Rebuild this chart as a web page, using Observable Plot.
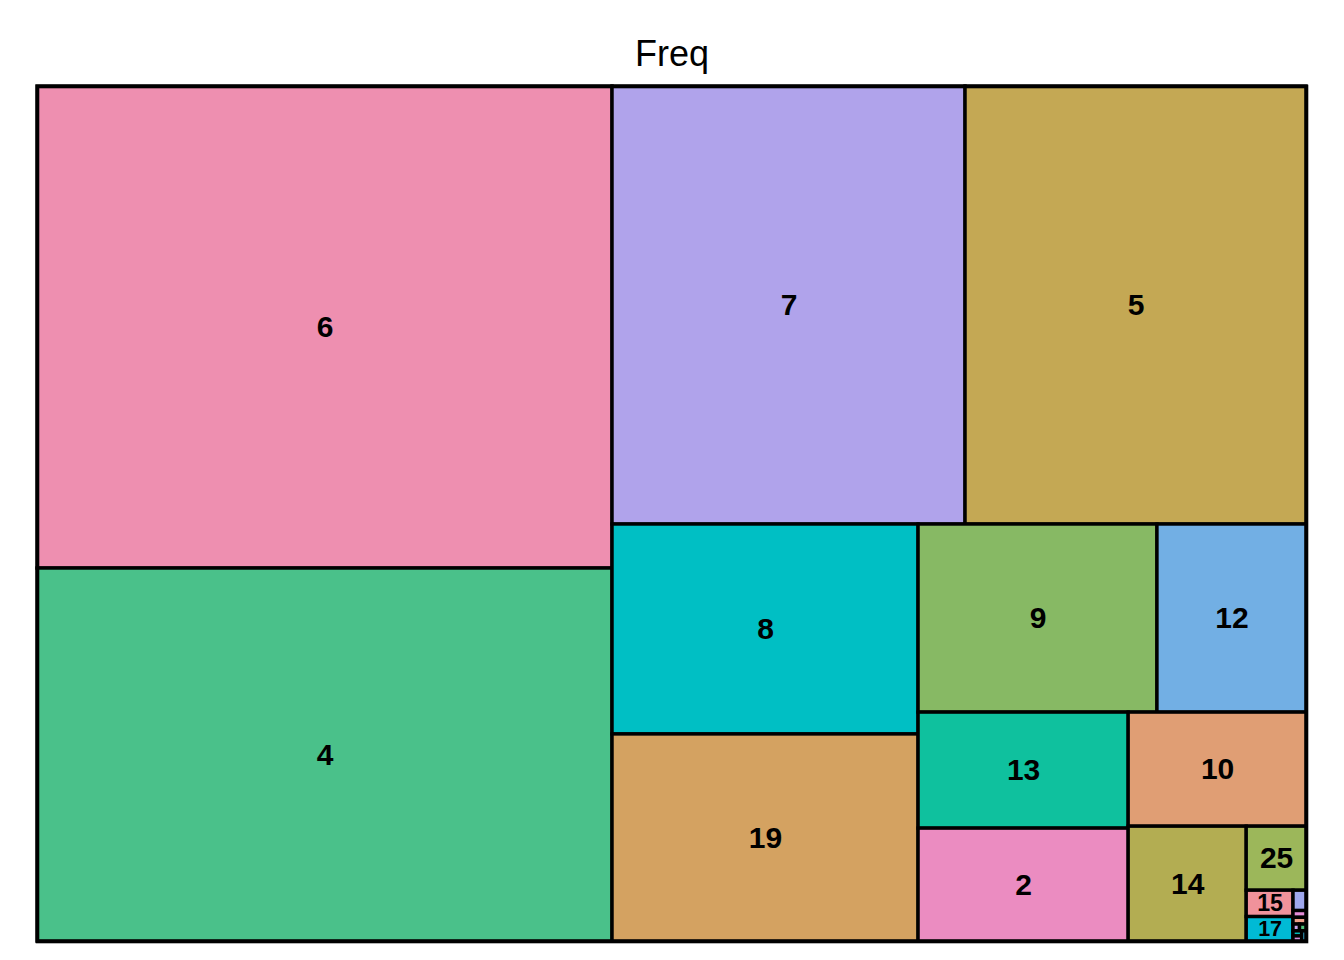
<!DOCTYPE html>
<html>
<head>
<meta charset="utf-8">
<script src="https://cdn.jsdelivr.net/npm/d3@7"></script>
<script src="https://cdn.jsdelivr.net/npm/@observablehq/plot@0.6"></script>
<style>
  html, body { margin: 0; padding: 0; background: #fff; }
  #chart { width: 1344px; height: 960px; }
</style>
</head>
<body>
<div id="chart"></div>
<script>
// Category labels, frequencies and fill colours
const categories = ["6", "4", "7", "5", "8", "19", "9", "12", "13", "2", "10", "14", "25", "15", "17",
                    "11", "16", "18", "20", "3", "21", "22", "23"];
const freq = [6299, 4874, 3514, 3394, 1460, 1440, 1021, 637, 554, 539, 461, 308, 87, 28, 26,
              6, 2, 2, 1, 1, 1, 1, 1];
const colors = ["#EE8FB0", "#4AC18A", "#B0A3EB", "#C4A854", "#00BFC4", "#D4A261", "#87B964", "#72AFE4",
                "#0FC19E", "#EB8CC1", "#E09E74", "#B3AD52", "#9CB75A", "#F0929B", "#00BAD5",
                "#9FA8EE", "#E58CD8", "#EE9F8A", "#C8A2E8", "#4FC07A", "#00BCB8", "#D08EDB", "#3BB9E0"];
const title = "Freq";

const W = 1269, H = 855;
const table = categories.map((c, i) => ({name: c, value: freq[i], color: colors[i]}));

const root = d3.hierarchy({children: table})
  .sum(d => d.value || 0)
  .sort((a, b) => b.value - a.value);
d3.treemap().tile(d3.treemapSquarify.ratio(1)).size([W, H]).round(false)(root);

const cells = root.leaves().map(l => ({
  name: l.data.name, color: l.data.color,
  x0: l.x0, x1: l.x1, y0: l.y0, y1: l.y1,
  cx: (l.x0 + l.x1) / 2, cy: (l.y0 + l.y1) / 2,
  w: l.x1 - l.x0, h: l.y1 - l.y0
}));
const labelled = cells.filter(c => c.w > 14 && c.h > 14).map(c => ({
  ...c, fs: Math.min(30, c.h * 0.88, c.w / (c.name.length * 0.64))
}));

const chart = Plot.plot({
  width: 1344,
  height: 960,
  marginLeft: 37,
  marginRight: 38,
  marginTop: 86,
  marginBottom: 19,
  x: {domain: [0, W], axis: null},
  y: {domain: [0, H], reverse: true, axis: null},
  style: {fontFamily: "Liberation Sans, Arial, sans-serif", background: "#fff"},
  marks: [
    Plot.rect(cells, {x1: "x0", x2: "x1", y1: "y0", y2: "y1", fill: "color", stroke: "#000", strokeWidth: 3.4}),
    Plot.text(labelled, {x: "cx", y: "cy", text: "name", fontSize: "fs", fontWeight: "bold", fill: "#000"}),
    Plot.frame({stroke: "#000", strokeWidth: 3.6}),
    Plot.text([title], {frameAnchor: "top", lineAnchor: "middle", dy: -32, fontSize: 36, fill: "#000"})
  ]
});
document.getElementById("chart").appendChild(chart);
</script>
</body>
</html>
